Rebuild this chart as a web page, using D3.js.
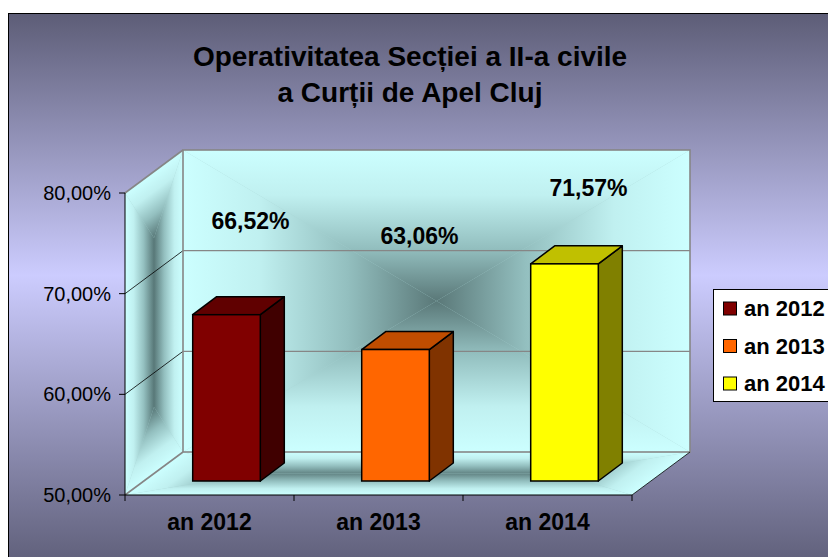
<!DOCTYPE html>
<html lang="ro">
<head>
<meta charset="UTF-8">
<title>Operativitatea Sectiei a II-a civile</title>
<script src="https://cdn.jsdelivr.net/npm/d3@7"></script>
<style>
    body { margin: 0; background: #fff; }
    svg { display: block; font-family: "Liberation Sans", Arial, sans-serif; }
</style>
</head>
<body>
<div id="chart"></div>
<script>
// data
var categories = ["an 2012", "an 2013", "an 2014"];
var values = [66.52, 63.06, 71.57];
var valueLabels = ["66,52%", "63,06%", "71,57%"];
var yTicks = [50, 60, 70, 80];
var yTickLabels = ["50,00%", "60,00%", "70,00%", "80,00%"];
var frontColors = ["#800000", "#ff6600", "#ffff00"];
var topColors = ["#600000", "#c04d00", "#c0c000"];
var sideColors = ["#400000", "#803300", "#808000"];

var W = 828, H = 557;
var x0 = 125, x1 = 632;
var depth = {dx: 58, dy: -43};      // floor / wall depth
var barShift = {dx: 17, dy: -14};   // bars sit a bit behind the front plane
var barDepth = {dx: 24, dy: -18};
var labelLift = [68, 88, 50];       // how Excel parked the data labels

var svg = d3.select("#chart").append("svg")
    .attr("width", W)
    .attr("height", H);

var defs = svg.append("defs");

var bg = defs.append("linearGradient")
    .attr("id", "bg")
    .attr("x1", 0).attr("y1", 0).attr("x2", 0).attr("y2", 1);
bg.append("stop").attr("offset", 0).attr("stop-color", "#5d5d77");
bg.append("stop").attr("offset", 0.47).attr("stop-color", "#ccccfe");
bg.append("stop").attr("offset", 1).attr("stop-color", "#5d5d77");

// "from center" fill: pieces of a unit square, each shaded edge -> centre,
// then the whole thing is mapped onto the wall with a matrix
var quadCount = 0;
function shadedQuad(p0, U, V, cu, cv, dark) {
    var k = quadCount++;
    var a = [cu, cv], b = [1 - cu, cv], c = [1 - cu, 1 - cv], d = [cu, 1 - cv];
    var pieces = [
        {from: [0, 0], to: [0, cv], pts: [[0, 0], [1, 0], b, a]},
        {from: [1, 0], to: [1 - cu, 0], pts: [[1, 0], [1, 1], c, b]},
        {from: [0, 1], to: [0, 1 - cv], pts: [[1, 1], [0, 1], d, c]},
        {from: [0, 0], to: [cu, 0], pts: [[0, 1], [0, 0], a, d]}
    ];
    var g = svg.append("g")
        .attr("transform", "matrix(" + [U[0], U[1], V[0], V[1], p0[0], p0[1]].join(",") + ")");
    g.append("rect").attr("width", 1).attr("height", 1).attr("fill", "#a8d4d4");
    pieces.forEach(function(p, j) {
        var id = "q" + k + "_" + j;
        var gr = defs.append("linearGradient")
            .attr("id", id)
            .attr("gradientUnits", "userSpaceOnUse")
            .attr("x1", p.from[0]).attr("y1", p.from[1])
            .attr("x2", p.to[0]).attr("y2", p.to[1]);
        gr.append("stop").attr("offset", 0).attr("stop-color", "#ccffff");
        gr.append("stop").attr("offset", 0.3).attr("stop-color", "#c0f0f0");
        gr.append("stop").attr("offset", 0.65).attr("stop-color", "#93bfbf");
        gr.append("stop").attr("offset", 1).attr("stop-color", dark);
        g.append("polygon")
            .attr("points", p.pts.map(function(q) { return q.join(","); }).join(" "))
            .attr("fill", "url(#" + id + ")");
    });
}

// scales
var y = d3.scaleLinear().domain([50, 80]).range([495, 193]);
var x = d3.scaleBand().domain(categories).range([x0, x1]).padding(0);

// chart area
svg.append("rect")
    .attr("x", 8.5).attr("y", 13.5)
    .attr("width", W).attr("height", H)
    .attr("fill", "url(#bg)")
    .attr("stroke", "#000").attr("stroke-width", 1);

// title
var title = svg.append("text")
    .attr("text-anchor", "middle")
    .attr("font-size", 28)
    .attr("font-weight", "bold")
    .attr("fill", "#000");
title.append("tspan").attr("x", 410).attr("y", 66).text("Operativitatea Secției a II-a civile");
title.append("tspan").attr("x", 410).attr("y", 102).text("a Curții de Apel Cluj");

var yTop = y(80), yBot = y(50), h = yBot - yTop, w = x1 - x0;

// walls and floor
shadedQuad([x0 + depth.dx, yTop + depth.dy], [w, 0], [0, h], 0.5, 0.5, "#5a7878");
shadedQuad([x0, yTop], [depth.dx, depth.dy], [0, h], 0.5, 0.22, "#587878");
shadedQuad([x0, yBot], [w, 0], [depth.dx, depth.dy], 0.2, 0.5, "#628484");

// gridlines on back wall and side wall
yTicks.slice(1, 3).forEach(function(t) {
    svg.append("line")
        .attr("x1", x0 + depth.dx).attr("x2", x1 + depth.dx)
        .attr("y1", y(t) + depth.dy).attr("y2", y(t) + depth.dy)
        .attr("stroke", "#868686").attr("stroke-width", 1.3);
    svg.append("line")
        .attr("x1", x0).attr("x2", x0 + depth.dx)
        .attr("y1", y(t)).attr("y2", y(t) + depth.dy)
        .attr("stroke", "#000").attr("stroke-width", 0.8);
});

// wall edges
svg.append("rect")
    .attr("x", x0 + depth.dx).attr("y", yTop + depth.dy)
    .attr("width", w).attr("height", h)
    .attr("fill", "none").attr("stroke", "#868686").attr("stroke-width", 1.6);
svg.append("line")
    .attr("x1", x0).attr("y1", yTop).attr("x2", x0 + depth.dx).attr("y2", yTop + depth.dy)
    .attr("stroke", "#868686").attr("stroke-width", 1.6);
svg.append("line")
    .attr("x1", x0).attr("y1", yBot).attr("x2", x0 + depth.dx).attr("y2", yBot + depth.dy)
    .attr("stroke", "#868686").attr("stroke-width", 1.6);
svg.append("line")
    .attr("x1", x1).attr("y1", yBot).attr("x2", x1 + depth.dx).attr("y2", yBot + depth.dy)
    .attr("stroke", "#000").attr("stroke-width", 0.8);

// axes
var yAxis = svg.append("g");
yAxis.append("line")
    .attr("x1", x0).attr("x2", x0).attr("y1", yTop).attr("y2", yBot)
    .attr("stroke", "#000");
yAxis.selectAll("line.tick").data(yTicks).enter().append("line")
    .attr("class", "tick")
    .attr("x1", x0 - 6).attr("x2", x0)
    .attr("y1", function(d) { return y(d); })
    .attr("y2", function(d) { return y(d); })
    .attr("stroke", "#000");
yAxis.selectAll("text").data(yTicks).enter().append("text")
    .attr("x", x0 - 14)
    .attr("y", function(d) { return y(d) + 7; })
    .attr("text-anchor", "end")
    .attr("font-size", 20)
    .attr("fill", "#000")
    .text(function(d, i) { return yTickLabels[i]; });

var xAxis = svg.append("g");
xAxis.append("line")
    .attr("x1", x0).attr("x2", x1).attr("y1", yBot).attr("y2", yBot)
    .attr("stroke", "#000");
xAxis.selectAll("line.tick").data(x.domain().map(x).concat([x1])).enter().append("line")
    .attr("class", "tick")
    .attr("x1", function(d) { return d; })
    .attr("x2", function(d) { return d; })
    .attr("y1", yBot).attr("y2", yBot + 6)
    .attr("stroke", "#000");
xAxis.selectAll("text").data(categories).enter().append("text")
    .attr("x", function(d) { return x(d) + x.bandwidth() / 2; })
    .attr("y", 530)
    .attr("text-anchor", "middle")
    .attr("font-size", 23)
    .attr("font-weight", "bold")
    .attr("fill", "#000")
    .text(function(d) { return d; });

// bars
var bw = x.bandwidth() * 0.4;
var bars = svg.selectAll("g.bar").data(values).enter().append("g").attr("class", "bar");

bars.each(function(d, i) {
    var g = d3.select(this);
    var bx = x(categories[i]) + (x.bandwidth() - bw) / 2 + barShift.dx;
    var yt = y(d) + barShift.dy;
    var yb = y(50) + barShift.dy;
    var ddx = barDepth.dx, ddy = barDepth.dy;
    g.append("polygon")
        .attr("points", [[bx + bw, yt], [bx + bw + ddx, yt + ddy], [bx + bw + ddx, yb + ddy], [bx + bw, yb]].join(" "))
        .attr("fill", sideColors[i]).attr("stroke", "#000").attr("stroke-width", 1.5)
        .attr("stroke-linejoin", "round");
    g.append("polygon")
        .attr("points", [[bx, yt], [bx + bw, yt], [bx + bw + ddx, yt + ddy], [bx + ddx, yt + ddy]].join(" "))
        .attr("fill", topColors[i]).attr("stroke", "#000").attr("stroke-width", 1.5)
        .attr("stroke-linejoin", "round");
    g.append("rect")
        .attr("x", bx).attr("y", yt)
        .attr("width", bw).attr("height", yb - yt)
        .attr("fill", frontColors[i]).attr("stroke", "#000").attr("stroke-width", 1.5);
    g.append("text")
        .attr("x", bx + bw / 2 + ddx)
        .attr("y", yt + ddy - labelLift[i])
        .attr("text-anchor", "middle")
        .attr("font-size", 23)
        .attr("font-weight", "bold")
        .attr("fill", "#000")
        .text(valueLabels[i]);
});

// legend
var legend = svg.append("g").attr("transform", "translate(713.5,289.5)");
legend.append("rect")
    .attr("width", 130).attr("height", 112)
    .attr("fill", "#fff").attr("stroke", "#000");
var items = legend.selectAll("g.item").data(categories).enter().append("g")
    .attr("class", "item")
    .attr("transform", function(d, i) { return "translate(10," + (19 + i * 37.5) + ")"; });
items.append("rect")
    .attr("x", 0).attr("y", -6.5)
    .attr("width", 13).attr("height", 13)
    .attr("fill", function(d, i) { return frontColors[i]; })
    .attr("stroke", "#000");
items.append("text")
    .attr("x", 20.5).attr("y", 7.5)
    .attr("font-size", 22)
    .attr("font-weight", "bold")
    .attr("fill", "#000")
    .text(function(d) { return d; });
</script>
</body>
</html>
